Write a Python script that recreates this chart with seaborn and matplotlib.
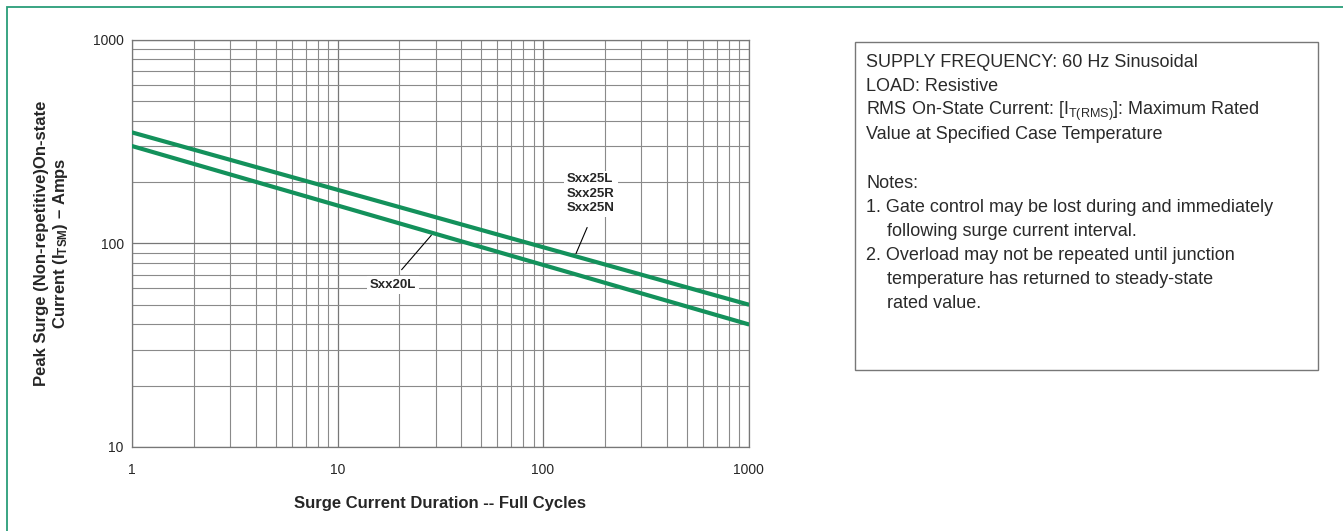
import matplotlib
matplotlib.use('Agg')
import matplotlib.pyplot as plt
import matplotlib.patches as patches
from matplotlib.ticker import LogLocator, FixedLocator, NullFormatter
import numpy as np
import pandas as pd
import seaborn as sns

# ---- data ----
cycles = [1, 1000]
sxx25_amps = [350, 50]
sxx20_amps = [300, 40]
devices = ['Sxx25', 'Sxx20']
x_ticks = [1, 10, 100, 1000]
y_ticks = [10, 100, 1000]
x_tick_labels = ['1', '10', '100', '1000']
y_tick_labels = ['10', '100', '1000']

GREEN = '#13915b'
GRID = '#8a8a8a'

df = pd.DataFrame({
    'cycles': cycles * 2,
    'amps': sxx25_amps + sxx20_amps,
    'device': [devices[0]] * 2 + [devices[1]] * 2,
})

sns.set_style('white')
plt.rcParams['font.family'] = ['Liberation Sans', 'DejaVu Sans']
plt.rcParams['mathtext.fontset'] = 'custom'
plt.rcParams['mathtext.rm'] = 'Liberation Sans'
plt.rcParams['mathtext.bf'] = 'Liberation Sans:bold'
plt.rcParams['mathtext.default'] = 'regular'

W, H = 1343, 531
fig = plt.figure(figsize=(W / 100, H / 100), dpi=100)
ax = fig.add_axes([132 / W, 1 - 447 / H, (748.5 - 132) / W, (447 - 39.5) / H])

sns.lineplot(data=df, x='cycles', y='amps', hue='device', palette=[GREEN, GREEN],
             legend=False, lw=3.0, ax=ax, zorder=3)

ax.set_xscale('log')
ax.set_yscale('log')
ax.set_xlim(1, 1000)
ax.set_ylim(10, 1000)

ax.xaxis.set_major_locator(FixedLocator(x_ticks))
ax.yaxis.set_major_locator(FixedLocator(y_ticks))
ax.set_xticklabels(x_tick_labels)
ax.set_yticklabels(y_tick_labels)
ax.xaxis.set_minor_locator(LogLocator(base=10, subs=np.arange(2, 10)))
ax.yaxis.set_minor_locator(LogLocator(base=10, subs=np.arange(2, 10)))
ax.xaxis.set_minor_formatter(NullFormatter())
ax.yaxis.set_minor_formatter(NullFormatter())

ax.grid(True, which='major', color='#777777', lw=0.9)
ax.grid(True, which='minor', color=GRID, lw=0.8)
ax.tick_params(which='minor', length=0)
ax.tick_params(axis='y', which='major', length=5, width=0.8, color=GRID, pad=1, labelsize=10)
ax.tick_params(axis='x', which='major', length=3.5, width=0.8, color=GRID, pad=8, labelsize=10)
for s in ax.spines.values():
    s.set_color('#777777')
    s.set_linewidth(0.9)

ax.set_xlabel('Surge Current Duration -- Full Cycles', fontsize=12, fontweight='bold',
              labelpad=14)
ax.set_ylabel('')
fig.text(52 / W, 1 - 243 / H,
         'Peak Surge (Non-repetitive)On-state\nCurrent (I$_{\\mathbf{TSM}}$) \u2013 Amps',
         rotation=90, ha='center', va='center', fontsize=12, fontweight='bold',
         linespacing=1.15, multialignment='center')


def on_line(amps, x):
    lx = np.log10(cycles)
    ly = np.log10(amps)
    return 10 ** np.interp(np.log10(x), lx, ly)


# device labels with leader lines
box = dict(fc='white', ec='none', pad=2)
ax.text(131, 175, 'Sxx25L\nSxx25R\nSxx25N', fontsize=9.5, fontweight='bold',
        ha='left', va='center', linespacing=1.25, bbox=box, zorder=4)
ax.annotate('', xy=(143, on_line(sxx25_amps, 143)), xytext=(166, 123),
            arrowprops=dict(arrowstyle='-', color='black', lw=0.8), zorder=4)
ax.text(14.4, 62.5, 'Sxx20L', fontsize=9.5, fontweight='bold',
        ha='left', va='center', bbox=box, zorder=4)
ax.annotate('', xy=(29.2, on_line(sxx20_amps, 29.2)), xytext=(20.1, 72.4),
            arrowprops=dict(arrowstyle='-', color='black', lw=0.8), zorder=4)

# conditions / notes box
bx0, bx1, by0, by1 = 855, 1318, 42, 370
fig.patches.append(patches.Rectangle((bx0 / W, 1 - by1 / H), (bx1 - bx0) / W, (by1 - by0) / H,
                                     transform=fig.transFigure, fill=False,
                                     ec='#777777', lw=1.0))
notes = [
    (866, 'SUPPLY FREQUENCY: 60 Hz Sinusoidal'),
    (866, 'LOAD: Resistive'),
    (866, 'RMS On-State Current: [I$_{T(RMS)}$]: Maximum Rated'),
    (866, 'Value at Specified Case Temperature'),
    (866, ''),
    (866, 'Notes:'),
    (866, '1. Gate control may be lost during and immediately'),
    (887, 'following surge current interval.'),
    (866, '2. Overload may not be repeated until junction'),
    (887, 'temperature has returned to steady-state'),
    (887, 'rated value.'),
]
base0, dy = 67, 24.1
for i, (xp, t) in enumerate(notes):
    if t:
        fig.text(xp / W, 1 - (base0 + i * dy) / H, t, fontsize=13, color='#2a2a2a',
                 ha='left', va='baseline')

# green page border (only left and top edges fall inside the crop)
fig.patches.append(patches.Rectangle((7 / W, -0.1), 1.2, 1.1 - 7 / H,
                                     transform=fig.transFigure, fill=False,
                                     ec='#2a9d78', lw=1.3))

fig.savefig('out.png', dpi=100)
